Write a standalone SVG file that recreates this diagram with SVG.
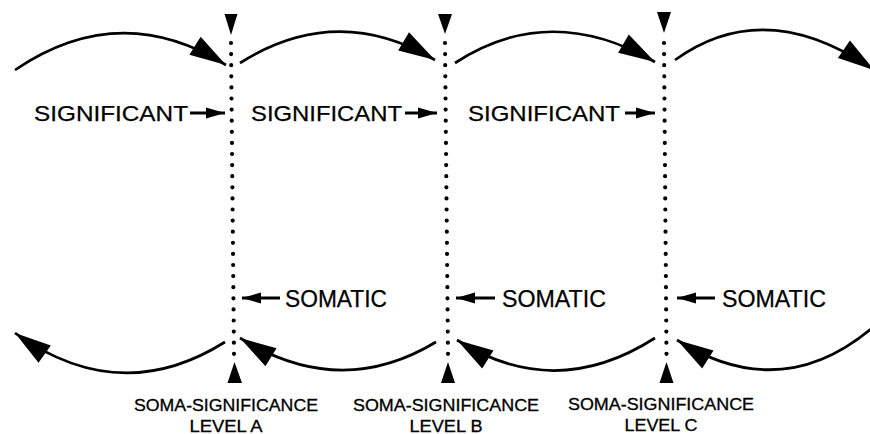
<svg xmlns="http://www.w3.org/2000/svg" width="870" height="434" viewBox="0 0 870 434">
<style>
.lbl{font-family:"Liberation Sans",Arial,sans-serif;fill:#000;stroke:#000;stroke-width:0.25}
.sig{font-size:22px}
.som{font-size:23px}
.lev{font-size:16px;text-anchor:middle;stroke-width:0.3}
.arc{fill:none;stroke:#000;stroke-width:2.7}
.sm{fill:none;stroke:#000;stroke-width:3}
.dots{fill:none;stroke:#000;stroke-width:4.2;stroke-linecap:round;stroke-dasharray:0 11.1}
.tri{fill:#000}
</style>
<defs>
<marker id="big" markerUnits="userSpaceOnUse" markerWidth="40" markerHeight="24" viewBox="-32 -10 34 20" refX="0" refY="0" orient="auto">
<path d="M0,0 L-31,-9 L-31,9 Z" fill="#000"/>
</marker>
<marker id="small" markerUnits="userSpaceOnUse" markerWidth="24" markerHeight="14" viewBox="-22 -7 24 14" refX="0" refY="0" orient="auto">
<path d="M0,0 L-19,-5.5 L-19,5.5 Z" fill="#000"/>
</marker>
</defs>
<rect width="870" height="434" fill="#fff"/>

<g id="level-a">
<polygon class="tri" points="224.5,14 237.5,14 231,35"/>
<line class="dots" x1="231" y1="43" x2="234" y2="354"/>
<polygon class="tri" points="234.5,362 227.5,383 242,383"/>
<text class="lbl lev" x="226" y="411" textLength="184" lengthAdjust="spacingAndGlyphs">SOMA-SIGNIFICANCE</text>
<text class="lbl lev" x="226" y="432" textLength="73" lengthAdjust="spacingAndGlyphs">LEVEL A</text>
</g>
<g id="level-b">
<polygon class="tri" points="438,14 452,14 445,34"/>
<line class="dots" x1="445" y1="43" x2="448" y2="354"/>
<polygon class="tri" points="448,362 441,383 455,383"/>
<text class="lbl lev" x="446" y="411" textLength="186" lengthAdjust="spacingAndGlyphs">SOMA-SIGNIFICANCE</text>
<text class="lbl lev" x="446" y="432" textLength="73" lengthAdjust="spacingAndGlyphs">LEVEL B</text>
</g>
<g id="level-c">
<polygon class="tri" points="657,12 671,12 664,33"/>
<line class="dots" x1="664" y1="43" x2="666.5" y2="354"/>
<polygon class="tri" points="666.5,362 659.5,383 673.5,383"/>
<text class="lbl lev" x="661" y="410" textLength="186" lengthAdjust="spacingAndGlyphs">SOMA-SIGNIFICANCE</text>
<text class="lbl lev" x="661" y="431" textLength="73" lengthAdjust="spacingAndGlyphs">LEVEL C</text>
</g>

<g id="significant-1"><text class="lbl sig" x="34" y="121" textLength="154" lengthAdjust="spacingAndGlyphs">SIGNIFICANT</text></g>
<g id="significant-2"><text class="lbl sig" x="251" y="121" textLength="151" lengthAdjust="spacingAndGlyphs">SIGNIFICANT</text></g>
<g id="significant-3"><text class="lbl sig" x="468" y="121" textLength="152" lengthAdjust="spacingAndGlyphs">SIGNIFICANT</text></g>
<g id="somatic-1"><text class="lbl som" x="285" y="307" textLength="102" lengthAdjust="spacingAndGlyphs">SOMATIC</text></g>
<g id="somatic-2"><text class="lbl som" x="502" y="307" textLength="104" lengthAdjust="spacingAndGlyphs">SOMATIC</text></g>
<g id="somatic-3"><text class="lbl som" x="722" y="307" textLength="104" lengthAdjust="spacingAndGlyphs">SOMATIC</text></g>

<g id="connectors">
<path class="arc" d="M15,70 Q120,-1 226,65" marker-end="url(#big)"/>
<path class="arc" d="M240,63 Q337,2 435,60" marker-end="url(#big)"/>
<path class="arc" d="M455,63 Q550,1 655,62" marker-end="url(#big)"/>
<path class="arc" d="M675,60 Q765,-5 874,70" marker-end="url(#big)"/>
<path class="arc" d="M225,342 Q120,408 15,333" marker-end="url(#big)"/>
<path class="arc" d="M436,342 Q340,400 240,338" marker-end="url(#big)"/>
<path class="arc" d="M655,338 Q555,402 457,340" marker-end="url(#big)"/>
<path class="arc" d="M872,328 Q780,405 677,340" marker-end="url(#big)"/>
<line class="sm" x1="190" y1="113" x2="225" y2="113" marker-end="url(#small)"/>
<line class="sm" x1="405" y1="113" x2="437" y2="113" marker-end="url(#small)"/>
<line class="sm" x1="625" y1="113" x2="655" y2="113" marker-end="url(#small)"/>
<line class="sm" x1="280" y1="298" x2="242" y2="298" marker-end="url(#small)"/>
<line class="sm" x1="495" y1="298" x2="456" y2="298" marker-end="url(#small)"/>
<line class="sm" x1="715" y1="298" x2="677" y2="298" marker-end="url(#small)"/>
</g>
</svg>
